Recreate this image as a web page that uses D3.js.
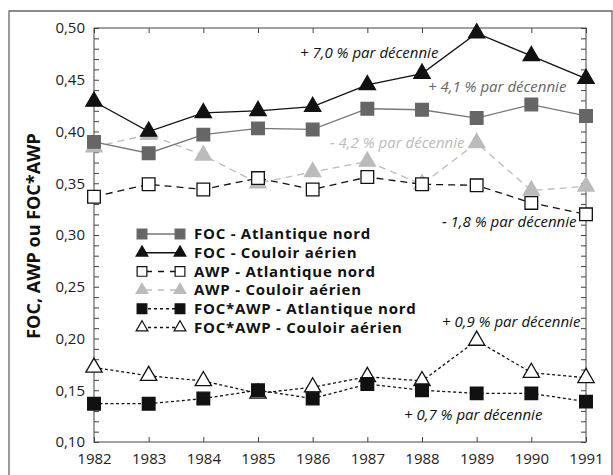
<!DOCTYPE html>
<html><head><meta charset="utf-8">
<script src="https://cdn.jsdelivr.net/npm/d3@7"></script>
<style>body{margin:0;background:#fff}svg{display:block}text{font-family:"Open Sans",sans-serif}</style>
</head><body><svg id="c" width="613" height="475"></svg>
<script>
const years = [1982,1983,1984,1985,1986,1987,1988,1989,1990,1991];
const focAtl = [0.390,0.379,0.397,0.403,0.402,0.422,0.421,0.413,0.426,0.415];
const focCou = [0.429,0.400,0.418,0.420,0.424,0.445,0.456,0.495,0.473,0.451];
const awpAtl = [0.337,0.349,0.344,0.355,0.344,0.356,0.349,0.348,0.331,0.320];
const awpCou = [0.385,0.397,0.377,0.350,0.361,0.371,0.349,0.389,0.343,0.347];
const prodAtl = [0.137,0.137,0.142,0.150,0.142,0.156,0.150,0.147,0.147,0.139];
const prodCou = [0.172,0.164,0.159,0.147,0.153,0.163,0.159,0.198,0.167,0.162];
const yTicks = [0.10,0.15,0.20,0.25,0.30,0.35,0.40,0.45,0.50];
const seriesNames = ["FOC - Atlantique nord","FOC - Couloir aérien","AWP - Atlantique nord","AWP - Couloir aérien","FOC*AWP - Atlantique nord","FOC*AWP - Couloir aérien"];
const trends = ["+ 7,0 % par décennie","+ 4,1 % par décennie","- 4,2 % par décennie","- 1,8 % par décennie","+ 0,9 % par décennie","+ 0,7 % par décennie"];

const svg = d3.select("#c");
const L=94,R=586,T=28,B=442;
const x = d3.scaleLinear().domain([1982,1991]).range([L,R]);
const y = d3.scaleLinear().domain([0.10,0.50]).range([B,T]);

svg.append("path").attr("d","M9,476 V11 H612 V476").attr("fill","none").attr("stroke","#666").attr("stroke-width",1.3);
svg.append("rect").attr("x",L).attr("y",T).attr("width",R-L).attr("height",B-T).attr("fill","none").attr("stroke","#444").attr("stroke-width",1);

const fmt = d=>d3.format(".2f")(d).replace(".",",");
const minor = d3.range(0,41).map(i=>0.10+i*0.01);
const gl = svg.append("g").attr("transform",`translate(${L},0)`)
  .call(d3.axisLeft(y).tickValues(minor).tickSize(-5).tickFormat(""));
const gl2 = svg.append("g").attr("transform",`translate(${L},0)`)
  .call(d3.axisLeft(y).tickValues(yTicks).tickSize(0).tickPadding(9).tickFormat(fmt));
const gr = svg.append("g").attr("transform",`translate(${R},0)`)
  .call(d3.axisRight(y).tickValues(minor).tickSize(-5).tickFormat(""));
const gb = svg.append("g").attr("transform",`translate(0,${B})`)
  .call(d3.axisBottom(x).tickValues(years).tickSize(-5).tickPadding(11).tickFormat(d3.format("d")));
const gt = svg.append("g").attr("transform",`translate(0,${T})`)
  .call(d3.axisTop(x).tickValues(years).tickSize(-5).tickFormat(""));
[gl,gl2,gr,gb,gt].forEach(g=>{
  g.select(".domain").remove();
  g.selectAll("line").attr("stroke","#444");
  g.selectAll("text").attr("font-size",15).attr("fill","#222");
});
gb.selectAll("text").attr("dy","0.71em");

svg.append("text").attr("transform","translate(34,236) rotate(-90)").attr("text-anchor","middle").attr("dy","0.35em")
  .attr("font-size",18).attr("font-weight","bold").attr("fill","#111").text("FOC, AWP ou FOC*AWP");

const series = [
  {v:focAtl, stroke:"#777", dash:null, sym:d3.symbolSquare, fill:"#666", mstroke:"#666"},
  {v:focCou, stroke:"#111", dash:null, sym:d3.symbolTriangle, fill:"#111", mstroke:"#111"},
  {v:awpAtl, stroke:"#111", dash:"7,5", sym:d3.symbolSquare, fill:"#fff", mstroke:"#111"},
  {v:awpCou, stroke:"#bbb", dash:"7,5", sym:d3.symbolTriangle, fill:"#bbb", mstroke:"#bbb"},
  {v:prodAtl, stroke:"#111", dash:"3,2.5", sym:d3.symbolSquare, fill:"#111", mstroke:"#111"},
  {v:prodCou, stroke:"#111", dash:"3,2.5", sym:d3.symbolTriangle, fill:"#fff", mstroke:"#111"}
];
const line = d3.line().x((d,i)=>x(years[i])).y(d=>y(d));
const symSize = s => s===d3.symbolSquare ? 160 : 115;
const order = [3,2,0,1,5,4];
order.forEach(k=>{
  const s = series[k];
  svg.append("path").datum(s.v).attr("d",line).attr("fill","none")
    .attr("stroke",s.stroke).attr("stroke-width",1.3).attr("stroke-dasharray",s.dash);
});
order.forEach(k=>{
  const s = series[k];
  svg.append("g").selectAll("path").data(s.v).join("path")
    .attr("transform",(d,i)=>`translate(${x(years[i])},${y(d)})`)
    .attr("d",d3.symbol().type(s.sym).size(symSize(s.sym)))
    .attr("fill",s.fill).attr("stroke",s.mstroke).attr("stroke-width",1.3);
});

const lg = svg.append("g");
seriesNames.forEach((n,i)=>{
  const s = series[i], yy = 234 + i*18.7;
  lg.append("line").attr("x1",142).attr("x2",180).attr("y1",yy).attr("y2",yy)
    .attr("stroke",s.stroke).attr("stroke-width",1.5).attr("stroke-dasharray",s.dash? (i<4?"6,6":"3,3"):null)
    .attr("stroke-dashoffset",i<4?-4:0);
  [142,180].forEach(px=>{
    lg.append("path").attr("transform",`translate(${px},${yy})`)
      .attr("d",d3.symbol().type(s.sym).size(s.sym===d3.symbolSquare?95:60))
      .attr("fill",s.fill).attr("stroke",s.mstroke).attr("stroke-width",1.2);
  });
  lg.append("text").attr("x",194).attr("y",yy).attr("dy","0.35em").attr("font-size",15)
    .attr("letter-spacing",0.75).attr("font-weight","bold").attr("fill","#111").text(n);
});

const ann = [
  {t:trends[0], x:300, y:58, c:"#111"},
  {t:trends[1], x:428, y:92, c:"#666"},
  {t:trends[2], x:330, y:148, c:"#bbb"},
  {t:trends[3], x:442, y:227, c:"#111"},
  {t:trends[4], x:442, y:327, c:"#111"},
  {t:trends[5], x:404, y:420, c:"#111"}
];
ann.forEach(a=>svg.append("text").attr("x",a.x).attr("y",a.y).attr("font-size",15)
  .attr("font-style","italic").attr("fill",a.c).text(a.t));
</script></body></html>
